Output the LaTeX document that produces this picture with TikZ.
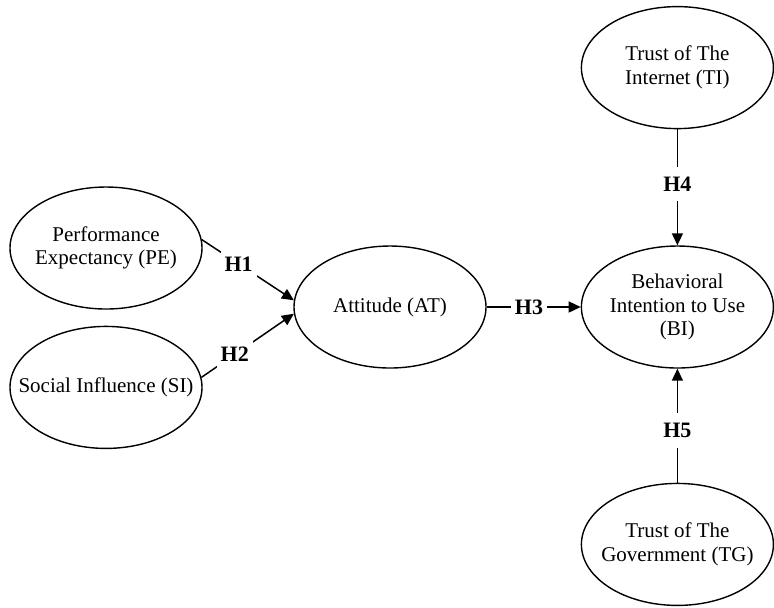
\documentclass[tikz,border=0pt]{standalone}
\usepackage{fontspec}
\setmainfont{Liberation Serif}
\usetikzlibrary{arrows.meta}
\usetikzlibrary{positioning}
\usetikzlibrary{shapes.geometric}

\begin{document}
\begin{tikzpicture}[
		x=0.5pt,y=-0.5pt,
		>={Triangle[length=6pt,width=5.5pt]},
		construct/.style={draw,line width=0.7pt,ellipse,inner sep=-20pt,minimum width=96pt,minimum height=61pt,align=center},
		path/.style={->,line width=0.75pt},
		hyp/.style={fill=white,inner xsep=2pt,inner ysep=5pt,font=\fontsize{11}{13}\bfseries}
	]\fontsize{10.5}{11.8}\selectfont
		\useasboundingbox (0,0) rectangle (774,607);

		\node [construct] (AT) at (390,307) {Attitude (AT)};
		\node [construct,right=47pt of AT] (BI) {Behavioral\\Intention to Use\\(BI)};
		\node [construct,above=58pt of BI] (TI) {Trust of The\\Internet (TI)};
		\node [construct,below=57pt of BI] (TG) {Trust of The\\Government (TG)};

		\node [construct] (PE) at (106,248) {Performance\\Expectancy (PE)};
		\node [construct,below=8pt of PE] (SI) {Social Influence (SI)};

		\draw [path] (PE.5) -- node [hyp,pos=0.4] {H1} (AT.176);
		\draw [path] (SI.6) -- node [hyp,pos=0.36] {H2} (AT.184);
		\draw [path] (AT) -- node [hyp,pos=0.45] {H3} (BI);
		\draw [path] (TI) -- node [hyp,pos=0.47] {H4} (BI);
		\draw [path] (TG) -- node [hyp,pos=0.46] {H5} (BI);
	\end{tikzpicture}
\end{document}
